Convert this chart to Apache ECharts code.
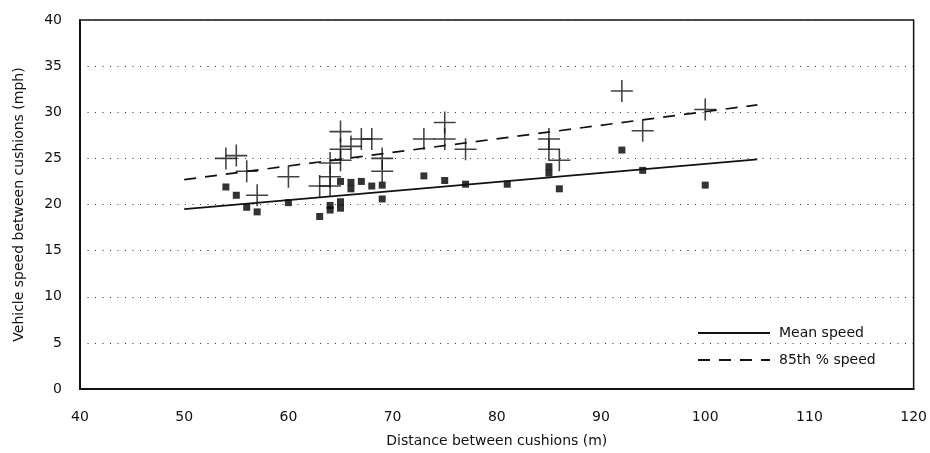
<!DOCTYPE html>
<html>
<head>
<meta charset="utf-8">
<script src="https://cdn.jsdelivr.net/npm/echarts@6/dist/echarts.min.js"></script>
<style>html,body{margin:0;padding:0;background:#fff}#c{width:930px;height:453px}</style>
</head>
<body>
<div id="c"></div>
<script>
// Mean speed observations (squares)
var meanX = [54, 55, 56, 57, 60, 63, 64, 64, 65, 65, 65, 66, 66, 67, 68, 69, 69, 73, 75, 77, 81, 85, 85, 86, 92, 94, 100];
var meanY = [21.9, 21.0, 19.7, 19.2, 20.2, 18.7, 19.9, 19.4, 22.5, 20.3, 19.6, 22.4, 21.7, 22.5, 22.0, 22.1, 20.6, 23.1, 22.6, 22.2, 22.2, 24.1, 23.4, 21.7, 25.9, 23.7, 22.1];
// 85th percentile speed observations (crosses)
var p85X = [54, 55, 56, 57, 60, 63, 64, 64, 64, 65, 65, 65, 66, 67, 68, 69, 69, 73, 75, 75, 77, 85, 85, 86, 92, 94, 100];
var p85Y = [25.0, 25.3, 23.6, 21.0, 23.0, 22.0, 24.5, 23.0, 22.0, 27.9, 26.0, 24.8, 26.3, 27.1, 27.1, 25.0, 23.6, 27.1, 28.9, 27.1, 26.0, 27.1, 26.0, 24.8, 32.3, 28.0, 30.3];
// fitted trend lines
var fitX = [50, 105];
var meanFit = [19.5, 24.9];
var p85Fit = [22.7, 30.8];
// axes
var xTicks = [40, 50, 60, 70, 80, 90, 100, 110, 120];
var yTicks = [0, 5, 10, 15, 20, 25, 30, 35, 40];

function pairs(xs, ys) { return xs.map(function (x, i) { return [x, ys[i]]; }); }

var FONT = 'DejaVu Sans, Verdana, sans-serif';
var plus = 'path://M9.3,0h1.4v9.3h9.3v1.4h-9.3v9.3h-1.4v-9.3h-9.3v-1.4h9.3z';

var chart = echarts.init(document.getElementById('c'), null, { renderer: 'canvas' });
chart.setOption({
  animation: false,
  backgroundColor: '#fff',
  textStyle: { fontFamily: FONT, color: '#111' },
  grid: { left: 80, top: 20, right: 13, bottom: 60, show: true, borderColor: '#111', borderWidth: 1.5, backgroundColor: 'transparent' },
  legend: {
    orient: 'vertical', left: 692, top: 321, itemWidth: 72, itemHeight: 14, itemGap: 13,
    textStyle: { fontFamily: FONT, fontSize: 14, color: '#111', padding: [0, 0, 0, 4] },
    data: ['Mean speed', '85th % speed']
  },
  xAxis: {
    type: 'value', min: xTicks[0], max: xTicks[xTicks.length - 1], interval: 10,
    name: 'Distance between cushions (m)', nameLocation: 'middle', nameGap: 45,
    nameTextStyle: { fontFamily: FONT, fontSize: 14, color: '#111' },
    axisLine: { show: true, onZero: false, lineStyle: { color: '#111', width: 2 } },
    axisTick: { show: false },
    axisLabel: { margin: 21, fontFamily: FONT, fontSize: 14, color: '#111' },
    splitLine: { show: false }
  },
  yAxis: {
    type: 'value', min: yTicks[0], max: yTicks[yTicks.length - 1], interval: 5,
    name: 'Vehicle speed between cushions (mph)', nameLocation: 'middle', nameGap: 54,
    nameTextStyle: { fontFamily: FONT, fontSize: 14, color: '#111' },
    axisLine: { show: true, lineStyle: { color: '#111', width: 2 } },
    axisTick: { show: false },
    axisLabel: { margin: 18, fontFamily: FONT, fontSize: 14, color: '#111' },
    splitLine: { show: true, lineStyle: { color: '#333', width: 1, type: [1, 6.5] } }
  },
  series: [
    {
      name: 'Mean points', type: 'scatter', data: pairs(meanX, meanY),
      symbol: 'rect', symbolSize: 7, itemStyle: { color: '#000' }, z: 3
    },
    {
      name: '85th points', type: 'scatter', data: pairs(p85X, p85Y),
      symbol: plus, symbolSize: 22, itemStyle: { color: '#111' }, z: 3
    },
    {
      name: 'Mean speed', type: 'line', data: pairs(fitX, meanFit),
      symbol: 'none', itemStyle: { color: 'rgba(0,0,0,0)' },
      lineStyle: { color: '#111', width: 1.7, type: 'solid' }, z: 4
    },
    {
      name: '85th % speed', type: 'line', data: pairs(fitX, p85Fit),
      symbol: 'none', itemStyle: { color: 'rgba(0,0,0,0)' },
      lineStyle: { color: '#111', width: 1.7, type: [12, 9] }, z: 4
    }
  ]
});
</script>
</body>
</html>
